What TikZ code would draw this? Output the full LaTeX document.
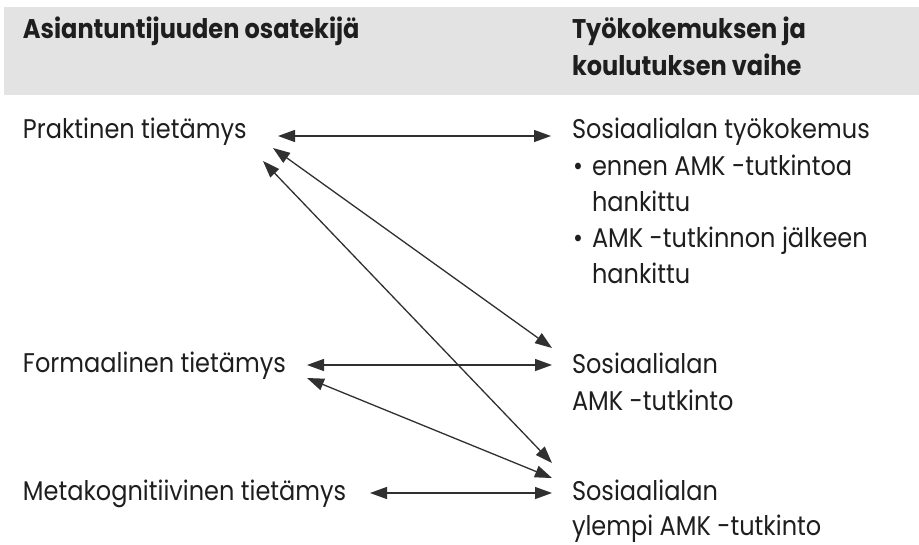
\documentclass[tikz,border=0pt]{standalone}
\usepackage{fontspec}
\setmainfont[FakeStretch=0.89]{Poppins}
\usetikzlibrary{arrows.meta}
\definecolor{bandgray}{HTML}{E3E3E3}
\definecolor{inkdark}{HTML}{1E1E1E}
\definecolor{linedark}{HTML}{303030}
\tikzset{
  txt/.style={anchor=base west, inner sep=0pt, outer sep=0pt, text=inkdark,
    font=\fontsize{27}{31}\selectfont},
  head/.style={txt, font=\fontsize{27}{31}\selectfont\bfseries},
  link/.style={draw=linedark, line width=1.3pt,
    {Triangle[length=17pt,width=12pt]}-{Triangle[length=17pt,width=12pt]}},
}
\begin{document}
\begin{tikzpicture}[x=1pt,y=-1pt]
  \useasboundingbox (0,0) rectangle (919,544);
  \fill[white] (0,0) rectangle (919,544);
  % header band
  \fill[bandgray] (4,7) rectangle (919,95);
  \node[head] (h1) at (23,38) {Asiantuntijuuden osatekijä};
  \node[head] (h2) at (572,38) {Työkokemuksen ja};
  \node[head] (h3) at (572,75) {koulutuksen vaihe};
  % left column: components of expertise
  \node[txt] (prak) at (23,138) {Praktinen tietämys};
  \node[txt] (form) at (23,372) {Formaalinen tietämys};
  \node[txt] (meta) at (23,500) {Metakognitiivinen tietämys};
  % right column: stages of work experience and education
  \node[txt] (tyo)  at (572,138) {Sosiaalialan työkokemus};
  \node[txt] (b1)   at (573,175) {•};
  \node[txt] (b1a)  at (592,175) {ennen AMK -tutkintoa};
  \node[txt] (b1b)  at (592,211) {hankittu};
  \node[txt] (b2)   at (573,247) {•};
  \node[txt] (b2a)  at (592,247) {AMK -tutkinnon jälkeen};
  \node[txt] (b2b)  at (592,283) {hankittu};
  \node[txt] (amk)  at (572,373) {Sosiaalialan};
  \node[txt] (amkb) at (572,410) {AMK -tutkinto};
  \node[txt] (yamk) at (572,500) {Sosiaalialan};
  \node[txt] (yamkb) at (572,535) {ylempi AMK -tutkinto};
  % arrow ends
  \coordinate (p1) at (278,136); \coordinate (q1) at (551,136);
  \coordinate (p2) at (273,148); \coordinate (q2) at (552,348);
  \coordinate (p3) at (263,161); \coordinate (q3) at (552,463);
  \coordinate (p4) at (307,365); \coordinate (q4) at (552,365);
  \coordinate (p5) at (307,378); \coordinate (q5) at (552,478);
  \coordinate (p6) at (370,493); \coordinate (q6) at (552,493);
  \draw[link] (p1) -- (q1);
  \draw[link] (p2) -- (q2);
  \draw[link] (p3) -- (q3);
  \draw[link] (p4) -- (q4);
  \draw[link] (p5) -- (q5);
  \draw[link] (p6) -- (q6);
\end{tikzpicture}
\end{document}
